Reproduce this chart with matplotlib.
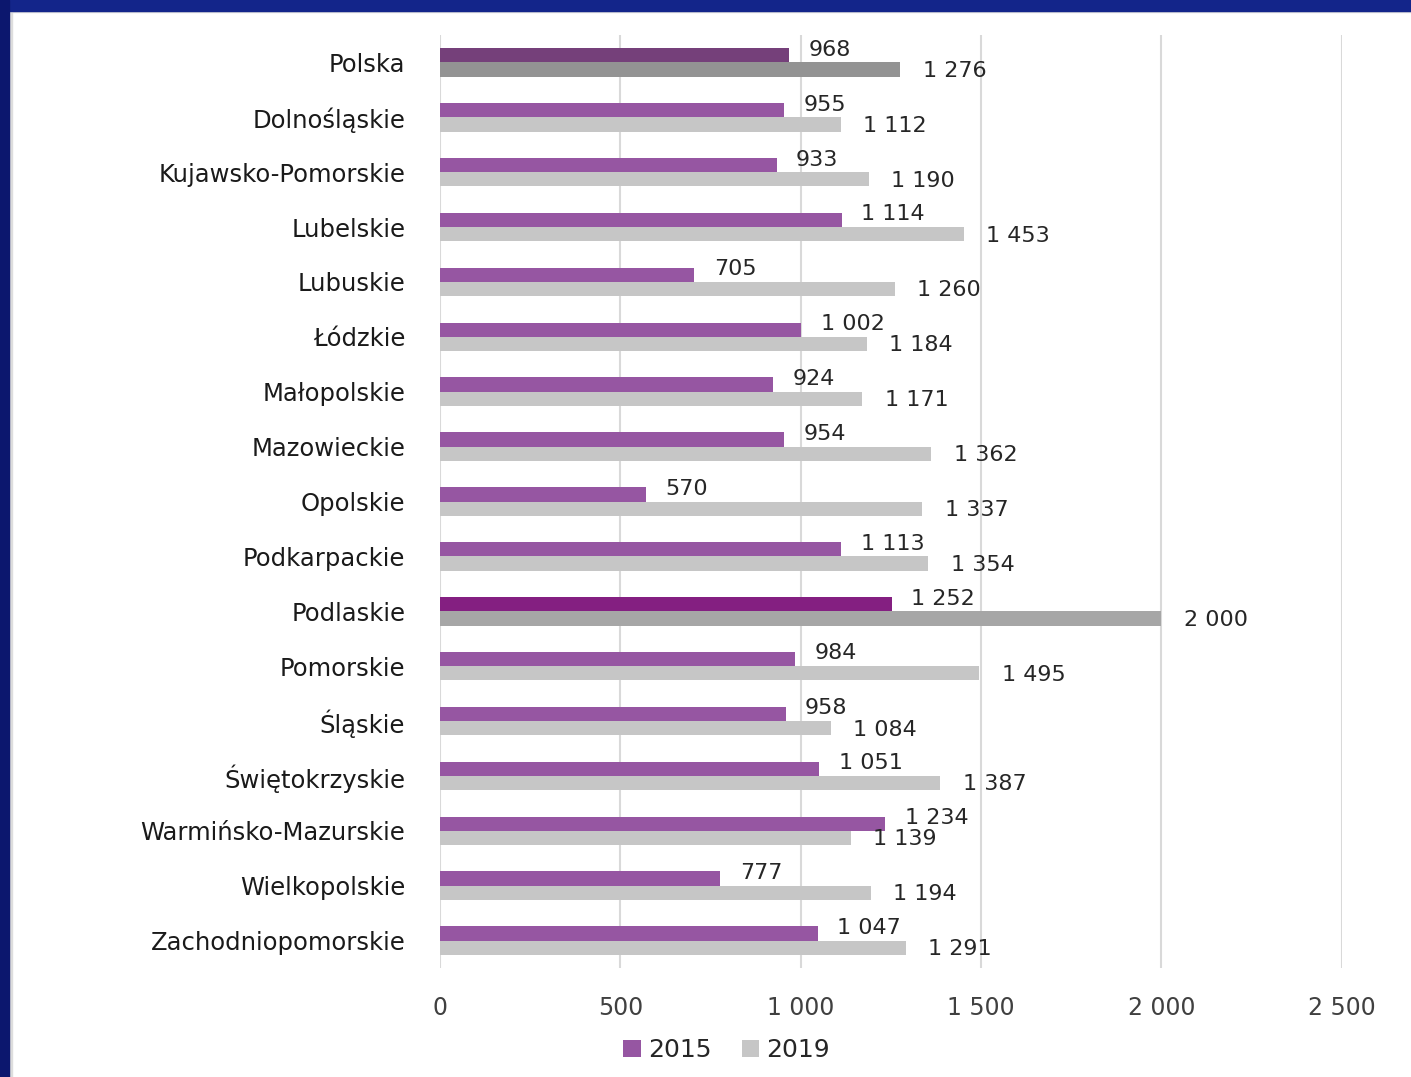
import matplotlib
matplotlib.use("Agg")
import matplotlib.pyplot as plt
from matplotlib.patches import Rectangle, Patch
import numpy as np

regions = ["Polska", "Dolnośląskie", "Kujawsko-Pomorskie", "Lubelskie", "Lubuskie",
           "Łódzkie", "Małopolskie", "Mazowieckie", "Opolskie", "Podkarpackie",
           "Podlaskie", "Pomorskie", "Śląskie", "Świętokrzyskie",
           "Warmińsko-Mazurskie", "Wielkopolskie", "Zachodniopomorskie"]
values_2015 = [968, 955, 933, 1114, 705, 1002, 924, 954, 570, 1113,
               1252, 984, 958, 1051, 1234, 777, 1047]
values_2019 = [1276, 1112, 1190, 1453, 1260, 1184, 1171, 1362, 1337, 1354,
               2000, 1495, 1084, 1387, 1139, 1194, 1291]
series_labels = ["2015", "2019"]
x_ticks = [0, 500, 1000, 1500, 2000, 2500]

def fmt(v):
    return f"{v:,}".replace(",", " ")

plt.rcParams['font.family'] = ['DejaVu Sans']

fig = plt.figure(figsize=(14.11, 10.77), dpi=100)
fig.patch.set_facecolor("white")
ax = fig.add_axes([0.3118, 0.1012, 0.951 - 0.3118, 0.9675 - 0.1012])

n = len(regions)
y = np.arange(n)
h = 0.26

base15, base19 = "#9656A2", "#C6C6C6"
c15 = [base15] * n
c19 = [base19] * n
c15[0] = "#75407A"; c19[0] = "#939393"
c15[10] = "#841F81"; c19[10] = "#A6A6A6"

ax.barh(y - h / 2, values_2015, height=h, color=c15, zorder=3)
ax.barh(y + h / 2, values_2019, height=h, color=c19, zorder=3)

for i in range(n):
    ax.annotate(fmt(values_2015[i]), (values_2015[i], y[i] - h / 2), xytext=(14, 4),
                textcoords="offset points", va="center", ha="left", fontsize=16, color="#262626")
    ax.annotate(fmt(values_2019[i]), (values_2019[i], y[i] + h / 2), xytext=(16, -1),
                textcoords="offset points", va="center", ha="left", fontsize=16, color="#262626")

ax.set_ylim(n - 0.5, -0.5)
ax.set_xlim(0, 2500)
ax.set_yticks(y)
ax.set_yticklabels(regions, fontsize=17.5, color="#1a1a1a")
ax.set_xticks(x_ticks)
ax.set_xticklabels([fmt(t) for t in x_ticks], fontsize=17, color="#404040")
ax.tick_params(axis="both", length=0)
ax.tick_params(axis="y", pad=25)
ax.tick_params(axis="x", pad=20)
ax.grid(axis="x", color="#D9D9D9", linewidth=1.5, zorder=0)
for s in ax.spines.values():
    s.set_visible(False)

handles = [Patch(facecolor=base15, label=series_labels[0]),
           Patch(facecolor=base19, label=series_labels[1])]
leg = fig.legend(handles=handles, loc="center", bbox_to_anchor=(0.515, 0.025), ncol=2,
                 frameon=False, fontsize=18, handlelength=0.7, handleheight=0.7,
                 handletextpad=0.3, columnspacing=1.2)
for t in leg.get_texts():
    t.set_color("#262626")

# frame border
fig.patches.append(Rectangle((0, 1 - 11 / 1077), 1, 11 / 1077, transform=fig.transFigure,
                             color="#13258A", zorder=10))
fig.patches.append(Rectangle((0, 1 - 12 / 1077), 1, 1 / 1077, transform=fig.transFigure,
                             color="#DDDDDD", zorder=9))
fig.patches.append(Rectangle((0, 0), 9 / 1411, 1, transform=fig.transFigure,
                             color="#0C176E", zorder=10))
fig.patches.append(Rectangle((9 / 1411, 0), 3 / 1411, 1 - 11 / 1077, transform=fig.transFigure,
                             color="#DDDDDD", zorder=9))

fig.savefig("out.png", dpi=100, facecolor="white")
